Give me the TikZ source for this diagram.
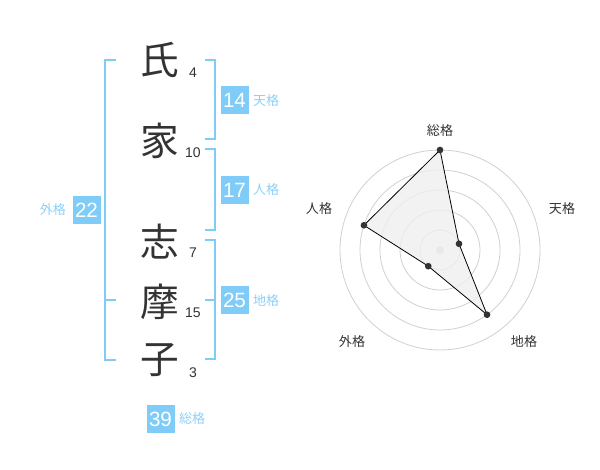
\documentclass[tikz,border=0pt]{standalone}
\usepackage{fontspec}
\setmainfont{Liberation Sans}
\newfontfamily\jpfont{Noto Sans CJK JP}
\usepackage{tikz}
\usetikzlibrary{
  positioning
}
\definecolor{boxblue}{HTML}{80CCF8}
\definecolor{lblblue}{HTML}{8DD0F8}
\definecolor{inkgray}{HTML}{333333}
\definecolor{ringgray}{HTML}{D0D0D0}
\definecolor{areagray}{HTML}{EFEFEF}

\begin{document}
\begin{tikzpicture}[
  x=0.75pt, y=-0.75pt,
  kanji/.style={font=\jpfont\fontsize{29pt}{29pt}\selectfont, text=inkgray, inner sep=0pt},
  strokes/.style={font=\fontsize{10.5pt}{10.5pt}\selectfont, text=inkgray, inner sep=0pt},
  score/.style={fill=boxblue, text=white, minimum width=21pt, minimum height=21pt,
                inner sep=0pt, font=\fontsize{15.5pt}{15.5pt}\selectfont},
  lbl/.style={font=\jpfont\fontsize{9.8pt}{9.8pt}\selectfont, text=lblblue, inner sep=0pt},
  axis/.style={font=\jpfont\fontsize{9.8pt}{9.8pt}\selectfont, text=inkgray, inner sep=0pt},
  bracket/.style={draw=boxblue, line width=1.5pt},
  ring/.style={draw=ringgray, line width=0.6pt},
  dot/.style={circle, fill=inkgray, inner sep=0pt, minimum size=5pt},
]
  \useasboundingbox (0,0) rectangle (600,470);

  % name characters and stroke counts
  \node[kanji] (c1) at (160,60)  {氏};
  \node[kanji] (c2) at (160,141) {家};
  \node[kanji] (c3) at (160,242) {志};
  \node[kanji] (c4) at (160,302) {摩};
  \node[kanji] (c5) at (160,360) {子};

  \node[strokes] (n1) at (193,73)  {4};
  \node[strokes] (n2) at (193,153) {10};
  \node[strokes] (n3) at (193,253) {7};
  \node[strokes] (n4) at (193,313) {15};
  \node[strokes] (n5) at (193,373) {3};

  % brackets
  \draw[bracket] (116,60) -- (105,60) -- (105,360) -- (116,360);
  \draw[bracket] (105,300) -- (116,300);
  \draw[bracket] (205,60) -- (215,60) -- (215,139) -- (205,139);
  \draw[bracket] (205,149) -- (215,149) -- (215,230) -- (205,230);
  \draw[bracket] (205,240) -- (215,240) -- (215,359) -- (205,359);
  \draw[bracket] (205,300) -- (215,300);

  % scores
  \node[score] (ten)  at (234.5,100.5) {14};
  \node[score] (jin)  at (234.5,190)   {17};
  \node[score] (chi)  at (234.5,300.5) {25};
  \node[score] (gai)  at (86.5,210)    {22};
  \node[score] (sou)  at (160.5,419)   {39};

  \node[lbl, right=3pt of ten] {天格};
  \node[lbl, right=3pt of jin] {人格};
  \node[lbl, right=3pt of chi] {地格};
  \node[lbl, left=4.5pt of gai] {外格};
  \node[lbl, right=3pt of sou] {総格};

  % radar chart
  \begin{scope}[shift={(440,250)}, y=0.75pt]
    \foreach \r in {20,40,60,80,100}
      \draw[ring] (0,0) circle (\r);
    \node[circle, fill=ringgray, inner sep=0pt, minimum size=6pt] (mid) at (0,0) {};

    \coordinate (pSou) at (90:100);
    \coordinate (pTen) at (18:20);
    \coordinate (pChi) at (-54:80);
    \coordinate (pGai) at (-126:20);
    \coordinate (pJin) at (162:80);

    \draw[fill=areagray, fill opacity=0.8, draw=black, line width=0.6pt]
      (pSou) -- (pTen) -- (pChi) -- (pGai) -- (pJin) -- cycle;
    \foreach \p in {pSou,pTen,pChi,pGai,pJin}
      \node[dot] at (\p) {};
  \end{scope}

  \node[axis] (aSou) at (440,131) {総格};
  \node[axis] (aTen) at (562,209) {天格};
  \node[axis] (aChi) at (524,342) {地格};
  \node[axis] (aGai) at (352,342) {外格};
  \node[axis] (aJin) at (319,209) {人格};
\end{tikzpicture}
\end{document}
